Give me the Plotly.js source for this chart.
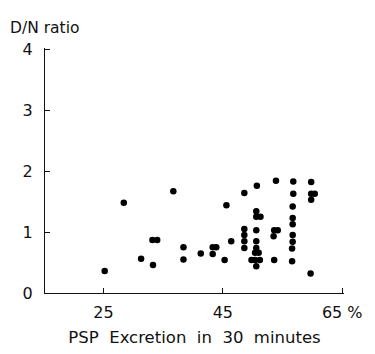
<!DOCTYPE html>
<html><head><meta charset="utf-8">
<script src="https://cdn.plot.ly/plotly-3.0.1.min.js"></script>
<style>html,body{margin:0;padding:0;background:#fff}#chart{width:375px;height:354px}</style>
</head><body><div id="chart"></div>
<script>
const pspExcretion = [25.2,28.4,31.3,33.2,34.0,33.3,36.7,38.4,38.4,41.3,43.3,43.9,43.3,45.3,45.6,46.4,
  48.6,48.6,48.6,48.6,48.6,50.7,50.6,50.6,51.3,50.6,50.6,50.6,50.4,51.0,49.8,50.4,51.2,50.6,
  53.9,53.6,54.2,53.5,53.6,56.8,56.8,56.7,56.7,56.7,56.7,56.7,56.6,56.6,59.8,59.8,60.4,59.8,59.7];
const dnRatio = [0.36,1.48,0.56,0.87,0.87,0.46,1.67,0.75,0.55,0.65,0.75,0.75,0.64,0.54,1.44,0.85,
  1.64,1.05,0.95,0.85,0.74,1.76,1.34,1.25,1.25,1.03,0.85,0.74,0.66,0.66,0.54,0.54,0.54,0.44,
  1.84,1.03,1.03,0.93,0.54,1.83,1.63,1.42,1.23,1.13,0.95,0.84,0.73,0.52,1.82,1.63,1.63,1.53,0.32];
const xTickVals = [25,45,65];
const xTickText = ['25','45','65 %'];
const yTickVals = [0,1,2,3,4];
const yTickText = ['0','1','2','3','4'];

const font = {family:'DejaVu Sans, sans-serif', color:'#111', size:16};
Plotly.newPlot('chart', [{
  x: pspExcretion, y: dnRatio, type:'scatter', mode:'markers',
  marker:{color:'#000', size:6.5}, hoverinfo:'skip'
}], {
  width:375, height:354,
  margin:{l:45, r:31, t:48, b:61},
  paper_bgcolor:'#fff', plot_bgcolor:'#fff',
  showlegend:false, font: font,
  xaxis:{range:[15.2,65.3], tickvals:xTickVals, ticktext:xTickText, ticks:'inside', ticklen:5,
    tickcolor:'#111', showline:true, linecolor:'#111', linewidth:1.2, showgrid:false, zeroline:false,
    ticklabelstandoff:5, tickfont:{size:16},
    title:{text:'PSP  Excretion  in  30  minutes', font:{size:16.5}, standoff:10}},
  yaxis:{range:[0,4.02], tickvals:yTickVals, ticktext:yTickText, ticks:'inside', ticklen:5,
    tickcolor:'#111', showline:true, linecolor:'#111', linewidth:1.2, showgrid:false, zeroline:false,
    ticklabelstandoff:8, tickfont:{size:16}},
  annotations:[{text:'D/N ratio', xref:'paper', yref:'paper', x:-0.125, y:1.035, xanchor:'left',
    yanchor:'bottom', showarrow:false, font:{size:15.5}}]
}, {staticPlot:true});
</script></body></html>
